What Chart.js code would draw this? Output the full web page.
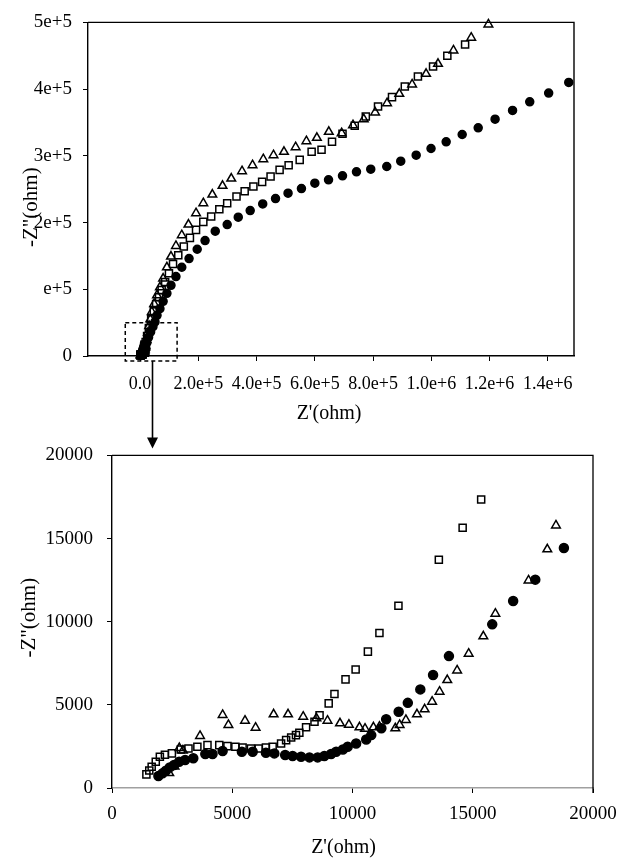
<!DOCTYPE html>
<html><head><meta charset="utf-8">
<script src="https://cdn.jsdelivr.net/npm/chart.js@4.4.1/dist/chart.umd.min.js"></script>
<style>
html,body{margin:0;padding:0;background:#fff;width:631px;height:858px;overflow:hidden}
#wrap{position:relative;width:631px;height:858px;background:#fff}
canvas{position:absolute;left:0}
</style></head><body>
<div id="wrap">
<canvas id="topc" width="631" height="430" style="top:0"></canvas>
<canvas id="botc" width="631" height="428" style="top:430px"></canvas>
<canvas id="ovl" width="631" height="858" style="top:0;pointer-events:none"></canvas>
</div>
<script>
// ---------- tick labels ----------
const topXTicks = [0, 2e5, 4e5, 6e5, 8e5, 1e6, 1.2e6, 1.4e6];
const topXLabels = ['0.0', '2.0e+5', '4.0e+5', '6.0e+5', '8.0e+5', '1.0e+6', '1.2e+6', '1.4e+6'];
const topYTicks = [0, 1e5, 2e5, 3e5, 4e5, 5e5];
const topYLabels = ['0', 'e+5', '2e+5', '3e+5', '4e+5', '5e+5'];
const botXTicks = [0, 5000, 10000, 15000, 20000];
const botYTicks = [0, 5000, 10000, 15000, 20000];

// zoom box (data units of the upper panel) and arrow position
const zoomBoxX = [-5.1e4, 1.27e5];
const zoomBoxY = [-7.5e3, 5.0e4];
const arrowX = 4.1e4;

// ---------- triangles (open) ----------
const triLowX = [2380, 2600, 2800, 2950, 3660, 4600, 4840, 5530, 5970, 6720, 7320, 7950, 8500, 8960, 9480, 9850, 10290, 10520, 10870, 11120, 11780, 11960, 12220, 12680, 13000, 13310, 13620, 13940, 14350, 14830, 15440, 15940, 17320, 18100, 18460];
const triLowY = [900, 1300, 2400, 2250, 3130, 4390, 3790, 4050, 3630, 4430, 4430, 4290, 4190, 4050, 3890, 3810, 3650, 3570, 3650, 3690, 3590, 3790, 4090, 4430, 4730, 5190, 5790, 6490, 7070, 8080, 9120, 10480, 12480, 14350, 15790];
const triMidX = [22e3, 27e3, 31e3, 35e3];
const triMidY = [24e3, 35e3, 45e3, 55e3];
const triHighX = [40e3, 48e3, 58e3, 68e3, 79e3, 92e3, 106e3, 123e3, 143e3, 166e3, 192e3, 217e3, 248e3, 283e3, 313e3, 350e3, 386e3, 423e3, 458e3, 494e3, 534e3, 571e3, 607e3, 648e3, 692e3, 731e3, 768e3, 807e3, 848e3, 890e3, 934e3, 982e3, 1023e3, 1076e3, 1137e3, 1196e3];
const triHighY = [66e3, 78e3, 91e3, 103e3, 116e3, 133e3, 149e3, 165e3, 181e3, 197e3, 214e3, 229e3, 242e3, 255e3, 266e3, 277e3, 286e3, 295e3, 301e3, 306e3, 313e3, 322e3, 327e3, 336e3, 334e3, 346e3, 355e3, 365e3, 379e3, 393e3, 407e3, 423e3, 438e3, 458e3, 477e3, 497e3];

// ---------- squares (open) ----------
const sqLowX = [1430, 1550, 1650, 1820, 1990, 2200, 2490, 2860, 3180, 3550, 3970, 4460, 4800, 5130, 5430, 5780, 6100, 6400, 6680, 7030, 7240, 7450, 7650, 7790, 8070, 8420, 8630, 9010, 9250, 9710, 10130, 10640, 11120, 11910, 13590, 14580, 15350];
const sqLowY = [820, 1050, 1280, 1580, 1880, 2000, 2080, 2320, 2380, 2480, 2580, 2580, 2520, 2480, 2440, 2380, 2380, 2440, 2480, 2680, 2880, 3040, 3180, 3320, 3650, 3980, 4380, 5090, 5650, 6530, 7130, 8200, 9320, 10960, 13730, 15650, 17350];
const sqMidX = [19e3, 24e3, 30e3, 38e3];
const sqMidY = [21e3, 30e3, 42e3, 55e3];
const sqHighX = [47e3, 55e3, 65e3, 74e3, 86e3, 99e3, 113e3, 131e3, 150e3, 171e3, 192e3, 217e3, 244e3, 272e3, 299e3, 331e3, 359e3, 389e3, 419e3, 448e3, 479e3, 510e3, 548e3, 589e3, 623e3, 659e3, 695e3, 737e3, 775e3, 817e3, 865e3, 909e3, 954e3, 1006e3, 1055e3, 1116e3];
const sqHighY = [67e3, 78e3, 88e3, 99e3, 111e3, 124e3, 138e3, 151e3, 164e3, 177e3, 189e3, 201e3, 209e3, 220e3, 229e3, 239e3, 247e3, 254e3, 261e3, 269e3, 279e3, 286e3, 294e3, 306e3, 309e3, 321e3, 333e3, 345e3, 359e3, 374e3, 388e3, 404e3, 419e3, 434e3, 450e3, 467e3];

// ---------- circles (filled) ----------
const ciLowX = [1930, 2100, 2240, 2400, 2580, 2790, 3040, 3380, 3880, 4180, 4600, 5400, 5850, 6400, 6750, 7200, 7510, 7860, 8210, 8550, 8830, 9110, 9320, 9600, 9800, 10150, 10570, 10780, 11200, 11400, 11920, 12300, 12820, 13350, 14010, 15810, 16680, 17600, 18790];
const ciLowY = [720, 880, 1040, 1240, 1380, 1580, 1680, 1790, 2040, 2040, 2220, 2180, 2180, 2120, 2080, 1980, 1920, 1880, 1840, 1840, 1920, 2040, 2180, 2320, 2480, 2680, 2920, 3180, 3590, 4130, 4580, 5120, 5930, 6790, 7930, 9840, 11240, 12530, 14430];
const ciMidX = [23e3, 29e3, 36e3, 44e3];
const ciMidY = [20e3, 28e3, 36e3, 44e3];
const ciHighX = [51e3, 58e3, 68e3, 79e3, 92e3, 106e3, 123e3, 143e3, 168e3, 196e3, 223e3, 258e3, 299e3, 337e3, 378e3, 421e3, 465e3, 508e3, 554e3, 600e3, 647e3, 695e3, 743e3, 792e3, 847e3, 895e3, 948e3, 999e3, 1051e3, 1106e3, 1161e3, 1219e3, 1279e3, 1338e3, 1403e3, 1472e3];
const ciHighY = [51e3, 61e3, 71e3, 82e3, 94e3, 106e3, 119e3, 133e3, 146e3, 160e3, 173e3, 187e3, 197e3, 208e3, 218e3, 228e3, 236e3, 244e3, 251e3, 259e3, 264e3, 270e3, 276e3, 280e3, 284e3, 292e3, 301e3, 311e3, 321e3, 332e3, 342e3, 355e3, 368e3, 381e3, 394e3, 410e3];

// ---------- helpers ----------
const pts = (xs, ys) => xs.map((x, i) => ({x: x, y: ys[i]}));
const SERIF = '"Liberation Serif", "DejaVu Serif", serif';
const INK = '#000';

function ds(data, style, r) {
  const filled = style === 'circle';
  return {
    data: data, pointStyle: style, pointRadius: r, pointHoverRadius: r,
    borderWidth: 1.5, borderColor: INK,
    backgroundColor: filled ? INK : 'rgba(0,0,0,0)',
    showLine: false, clip: false
  };
}

function axisTitlePlugin(id, xt, yt) {
  return {
    id: id,
    afterDraw(chart) {
      const {ctx, chartArea: a} = chart;
      ctx.save();
      ctx.fillStyle = INK;
      ctx.font = '20px ' + SERIF;
      ctx.textAlign = 'center';
      ctx.textBaseline = 'middle';
      ctx.fillText(xt.text, (a.left + a.right) / 2 + xt.dx, a.bottom + xt.dy);
      ctx.translate(yt.x, (a.top + a.bottom) / 2 + yt.dy);
      ctx.rotate(-Math.PI / 2);
      ctx.font = '21px ' + SERIF;
      ctx.fillText(yt.text, 0, 0);
      ctx.restore();
    }
  };
}

const framePluginTop = {
  id: 'frameTop',
  afterDraw(chart) {
    const {ctx, chartArea: a, scales: {x, y}} = chart;
    ctx.save();
    ctx.strokeStyle = INK; ctx.lineWidth = 1.4;
    ctx.beginPath();
    ctx.moveTo(a.left, a.top); ctx.lineTo(a.right, a.top); ctx.lineTo(a.right, a.bottom);
    ctx.stroke();
    // dashed zoom box
    const x1 = x.getPixelForValue(zoomBoxX[0]), x2 = x.getPixelForValue(zoomBoxX[1]);
    const y1 = y.getPixelForValue(zoomBoxY[1]), y2 = y.getPixelForValue(zoomBoxY[0]);
    ctx.setLineDash([4, 3]); ctx.lineWidth = 1.5;
    ctx.strokeRect(x1, y1, x2 - x1, y2 - y1);
    ctx.restore();
  }
};

const framePluginBot = {
  id: 'frameBot',
  afterDraw(chart) {
    const {ctx, chartArea: a} = chart;
    ctx.save();
    ctx.strokeStyle = INK; ctx.lineWidth = 1.3;
    ctx.beginPath();
    ctx.moveTo(a.left, a.top); ctx.lineTo(a.right, a.top); ctx.lineTo(a.right, a.bottom + 5);
    ctx.stroke();
    ctx.restore();
  }
};

function linAxis(opts) {
  return {
    type: 'linear', min: opts.min, max: opts.max,
    afterBuildTicks: s => { s.ticks = opts.ticks.map(v => ({value: v})); },
    afterFit: s => { if (opts.w !== undefined) s.width = opts.w; if (opts.h !== undefined) s.height = opts.h; },
    ticks: {
      autoSkip: false, maxRotation: 0, minRotation: 0,
      color: INK, font: {family: SERIF, size: opts.fs}, padding: opts.pad,
      callback: (v, i) => opts.labels ? opts.labels[i] : String(opts.ticks[i])
    },
    grid: {drawOnChartArea: false, drawTicks: true, tickLength: 5, tickColor: INK, tickWidth: 1},
    border: {display: true, color: opts.bc || INK, width: 1.4}
  };
}

Chart.defaults.animation = false;

const topChart = new Chart(document.getElementById('topc'), {
  type: 'scatter',
  data: {datasets: [
    ds(pts(triLowX.concat(triMidX, triHighX), triLowY.concat(triMidY, triHighY)), 'triangle', 5),
    ds(pts(sqLowX.concat(sqMidX, sqHighX), sqLowY.concat(sqMidY, sqHighY)), 'rect', 5),
    ds(pts(ciLowX.concat(ciMidX, ciHighX), ciLowY.concat(ciMidY, ciHighY)), 'circle', 4)
  ]},
  options: {
    responsive: false, devicePixelRatio: 1, animation: false,
    layout: {padding: {left: 0, right: 57, top: 19, bottom: 0}},
    plugins: {legend: {display: false}, tooltip: {enabled: false}},
    scales: {
      x: linAxis({min: -1.79e5, max: 1.49e6, ticks: topXTicks, labels: topXLabels, fs: 18, pad: 12, h: 74}),
      y: linAxis({min: 0, max: 5e5, ticks: topYTicks, labels: topYLabels, fs: 19, pad: 11, w: 88})
    }
  },
  plugins: [framePluginTop, axisTitlePlugin('titlesTop', {text: "Z'(ohm)", dx: -2, dy: 58}, {text: '-Z"(ohm)', x: 31, dy: 18})]
});

const botChart = new Chart(document.getElementById('botc'), {
  type: 'scatter',
  data: {datasets: [
    ds(pts(triLowX, triLowY), 'triangle', 5),
    ds(pts(sqLowX, sqLowY), 'rect', 5),
    ds(pts(ciLowX, ciLowY), 'circle', 4.5)
  ]},
  options: {
    responsive: false, devicePixelRatio: 1, animation: false,
    layout: {padding: {left: 0, right: 38, top: 25, bottom: 0}},
    plugins: {legend: {display: false}, tooltip: {enabled: false}},
    scales: {
      x: linAxis({min: 0, max: 20000, ticks: botXTicks, fs: 19, pad: 10, h: 70, bc: '#a0a0a0'}),
      y: linAxis({min: 0, max: 20000, ticks: botYTicks, fs: 19, pad: 14, w: 112})
    }
  },
  plugins: [framePluginBot, axisTitlePlugin('titlesBot', {text: "Z'(ohm)", dx: -9, dy: 60}, {text: '-Z"(ohm)', x: 29, dy: -4})]
});

// arrow from the zoom box down to the lower panel
(function drawArrow() {
  const ctx = document.getElementById('ovl').getContext('2d');
  const ax = Math.round(topChart.scales.x.getPixelForValue(arrowX)) + 0.5;
  const ay1 = topChart.scales.y.getPixelForValue(zoomBoxY[0]);
  const ay2 = 430 + botChart.chartArea.top - 7;
  ctx.strokeStyle = INK; ctx.fillStyle = INK; ctx.lineWidth = 1.6;
  ctx.beginPath(); ctx.moveTo(ax, ay1); ctx.lineTo(ax, ay2 - 9); ctx.stroke();
  ctx.beginPath(); ctx.moveTo(ax - 5.5, ay2 - 11); ctx.lineTo(ax + 5.5, ay2 - 11); ctx.lineTo(ax, ay2); ctx.closePath(); ctx.fill();
})();
</script>
</body></html>
